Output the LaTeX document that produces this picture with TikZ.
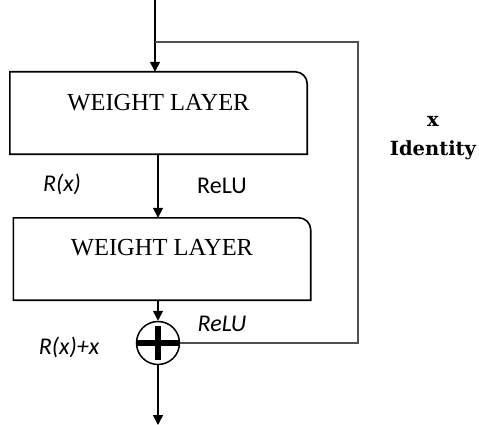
\documentclass[tikz,border=0pt]{standalone}
\usepackage{fontspec}
\setmainfont{Liberation Serif}
\newfontfamily\labelfont{Carlito}
\newfontfamily\slabfont{DejaVu Serif}
\usetikzlibrary{arrows.meta, positioning}
\definecolor{skipgray}{RGB}{80,80,80}

\begin{document}
\begin{tikzpicture}[x=1pt, y=-1pt,
  layer/.style={minimum width=297pt, minimum height=82pt, inner sep=0pt},
  flow/.style={line width=1.6pt, -{Triangle[length=10pt,width=10pt]}},
  tag/.style={font=\labelfont\fontsize{24}{28}\selectfont, inner sep=0pt},
  title/.style={font=\fontsize{24.5}{28}\selectfont, inner sep=0pt}]
  \useasboundingbox (0,0) rectangle (479,425);
  \coordinate (input) at (155,0);
  \coordinate (split) at (155,42);
  \coordinate (corner) at (358,42);
  \coordinate (output) at (158,425);

  % the two layers, rounded at the top right only
  \node[layer] (w1) at (158.5,113) {};
  \node[layer] (w2) at (162,259) {};
  \foreach \b in {w1,w2}
    \draw[line width=1.6pt] (\b.south west) -- (\b.north west)
      [rounded corners=12pt] -- (\b.north east) [sharp corners] -- (\b.south east) -- cycle;
  \node[title] at ([yshift=10pt]w1.center) {WEIGHT LAYER};
  \node[title] at ([yshift=11pt]w2.center) {WEIGHT LAYER};

  % addition
  \node[draw, circle, line width=1.5pt, minimum size=43pt, inner sep=0pt] (sum) at (158,343) {};
  \draw[line width=6pt] (sum.west) -- (sum.east);
  \draw[line width=6pt, shorten <=5pt, shorten >=5pt] (sum.north) -- (sum.south);

  \draw[flow] (input) -- (w1.north -| input);
  \draw[flow] (w1.south -| sum) -- (w2.north -| sum);
  \draw[flow] (w2.south -| sum) -- (sum.north);
  \draw[flow] (sum.south) -- (output);

  % identity shortcut
  \draw[skipgray, line width=1.3pt] (split) -- (corner) |- (sum.east);

  \node[tag] at (62,184) {\itshape R(x)};
  \node[tag] at (222,186) {ReLU};
  \node[tag] at (222,324) {\itshape ReLU};
  \node[tag] at (69,347) {\itshape R(x)+x};
  \node[font=\slabfont\bfseries\fontsize{19.5}{29}\selectfont, align=center, inner sep=0pt]
    at (433,138) {x\\Identity};
\end{tikzpicture}
\end{document}
